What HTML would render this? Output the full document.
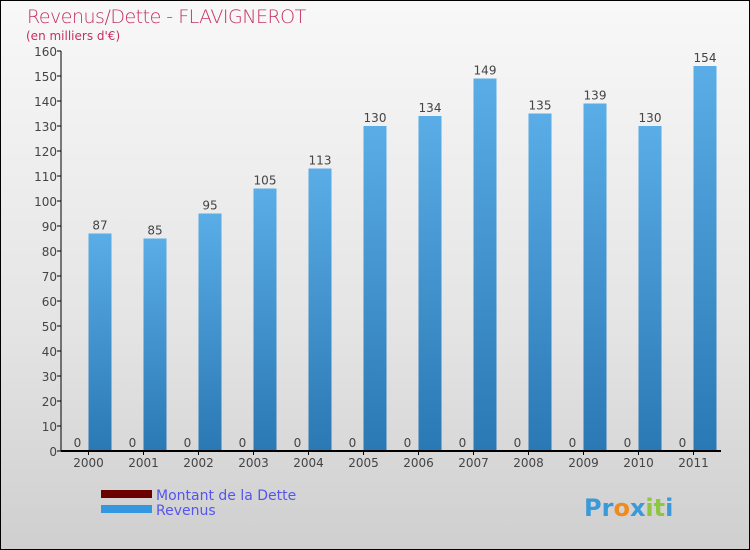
<!DOCTYPE html>
<html><head><meta charset="utf-8"><style>
body{margin:0;}
#c{width:748px;height:548px;border:1px solid #000;background:linear-gradient(#f8f8f8,#e4e4e4 60%,#cfcfcf);position:relative;overflow:hidden;font-family:"DejaVu Sans","Liberation Sans",sans-serif;}
</style></head><body>
<div id="c">
<svg width="748" height="548" id="svg">
<defs>
<linearGradient id="rg" x1="0" y1="0" x2="0" y2="1"><stop offset="0" stop-color="#5aade6"/><stop offset="1" stop-color="#2a78b4"/></linearGradient>
</defs>
<text x="26" y="22" font-size="19" fill="#c4305f" font-family="DejaVu Sans" font-weight="200" letter-spacing="-0.5">Revenus/Dette - FLAVIGNEROT</text>
<text x="25" y="39" font-size="12" fill="#c4305f">(en milliers d'€)</text>
<g id="plot"></g>
<g>
<rect x="100" y="489" width="51" height="8" fill="#6b0000"/>
<text x="155" y="499" font-size="14" fill="#5555ee">Montant de la Dette</text>
<rect x="100" y="504" width="51" height="8" fill="#3398e0"/>
<text x="155" y="514" font-size="14" fill="#5555ee">Revenus</text>
</g>
<text x="583" y="515" font-size="24" font-weight="bold"><tspan fill="#3a9ad9">Pr</tspan><tspan fill="#f08a1c">o</tspan><tspan fill="#3a9ad9">x</tspan><tspan fill="#8dc63f">it</tspan><tspan fill="#3a9ad9">i</tspan></text>
</svg>
</div>
<script>
const categories=["2000","2001","2002","2003","2004","2005","2006","2007","2008","2009","2010","2011"];
const revenus=[87,85,95,105,113,130,134,149,135,139,130,154];
const dette=[0,0,0,0,0,0,0,0,0,0,0,0];
const yTicks=[0,10,20,30,40,50,60,70,80,90,100,110,120,130,140,150,160];
const NS="http://www.w3.org/2000/svg";
const g=document.getElementById('plot');
const x0=60,band=55,yBase=450,yTop=50,yMax=160;
const y=v=>yBase-(v/yMax)*(yBase-yTop);
const xc=i=>x0+band*(i+0.5);
function mk(t,a){const e=document.createElementNS(NS,t);for(const k in a)e.setAttribute(k,a[k]);g.appendChild(e);return e;}
yTicks.forEach(t=>{
  const l=mk('line',{x1:x0-4,x2:x0,y1:y(t),y2:y(t),stroke:'#000'});
  
  
  const tx=mk('text',{x:x0-4,y:y(t)+5,'text-anchor':'end','font-size':12,fill:'#444'});
  tx.textContent=t;
  
  
});
categories.forEach((c,i)=>{
  const cx=xc(i);
  const d=mk('rect',{x:cx-22,y:y(dette[i])-1,width:22,height:Math.max(1,yBase-y(dette[i])),fill:'#6b0000'});
  
  
  const dl=mk('text',{x:cx-11,y:y(dette[i])-4,'text-anchor':'middle','font-size':12,fill:'#444'});
  dl.textContent=dette[i];
  
  
  const r=mk('rect',{x:cx,y:y(revenus[i]),width:23,height:yBase-y(revenus[i]),fill:'url(#rg)'});
  
  
  const rl=mk('text',{x:cx+11.5,y:y(revenus[i])-4,'text-anchor':'middle','font-size':12,fill:'#444'});
  rl.textContent=revenus[i];
  
  
  const tk=mk('line',{x1:cx,x2:cx,y1:yBase,y2:yBase+4,stroke:'#000'});
  
  
  const xl=mk('text',{x:cx,y:yBase+16,'text-anchor':'middle','font-size':12,fill:'#444'});
  xl.textContent=c;
  
  
});
const ya=mk('line',{x1:x0,x2:x0,y1:yTop,y2:yBase,stroke:'#000'});


const xa=mk('line',{x1:x0,x2:x0+band*12,y1:yBase,y2:yBase,stroke:'#000','stroke-width':2});


</script>
</body></html>
